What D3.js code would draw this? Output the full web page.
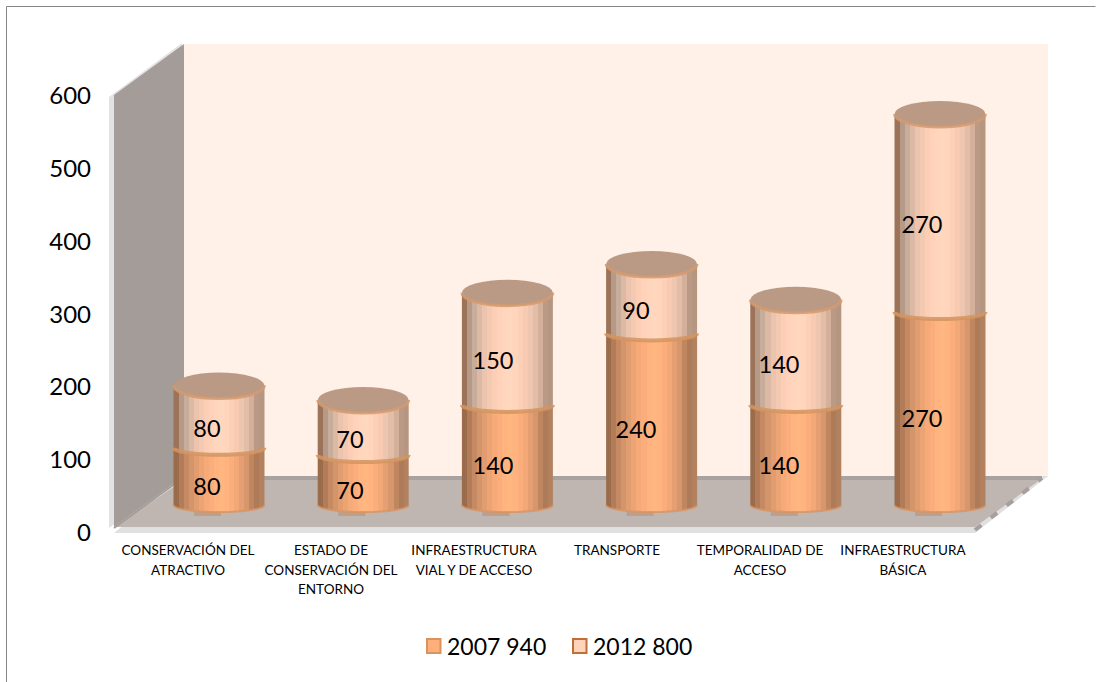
<!DOCTYPE html>
<html><head><meta charset="utf-8">
<script src="https://cdnjs.cloudflare.com/ajax/libs/d3/7.9.0/d3.min.js"></script>
<style>html,body{margin:0;padding:0;background:#fff}svg{display:block}text{font-family:Lato,"Open Sans",sans-serif;fill:#000}</style>
</head><body><svg id="c" width="1101" height="682"></svg>
<script>
const categories = [
  ["CONSERVACIÓN DEL","ATRACTIVO"],
  ["ESTADO DE","CONSERVACIÓN DEL","ENTORNO"],
  ["INFRAESTRUCTURA","VIAL Y DE ACCESO"],
  ["TRANSPORTE"],
  ["TEMPORALIDAD DE","ACCESO"],
  ["INFRAESTRUCTURA","BÁSICA"]
];
const values2007 = [80,70,140,240,140,270];
const values2012 = [80,70,150,90,140,270];
const yTicks = [0,100,200,300,400,500,600];
const legendLabels = ["2007 940","2012 800"];

const lowerStops = ["#9a6c4c","#b27c58","#c58a64","#d5956b","#e19c70","#eca474","#f5aa78","#fbae7b","#ffb37f","#ffb681","#ffb480","#fbae7b","#f3a878","#e69f72","#d7976d","#c08660","#ae7a58","#b28260"];
const upperStops = ["#9c7358","#b59a88","#c9ad9b","#dcb9a5","#ecc4ad","#f4c9b1","#fbceb5","#ffd2b9","#ffd5bc","#ffd6be","#ffd5bc","#fcd0b6","#f7cab1","#eec5ae","#e2bda7","#d4b09b","#ba9a86","#b59680"];

const svg = d3.select("#c");
const defs = svg.append("defs");
function stepped(id, cols){
  const g = defs.append("linearGradient").attr("id",id).attr("x1",0).attr("x2",1).attr("y1",0).attr("y2",0);
  cols.forEach((c,i)=>{
    g.append("stop").attr("offset",i/cols.length).attr("stop-color",c);
    g.append("stop").attr("offset",(i+1)/cols.length).attr("stop-color",c);
  });
}
stepped("gLow",lowerStops); stepped("gUp",upperStops);

// frame
svg.append("path").attr("d","M6.5,682V6.5H1095.5").attr("fill","none").attr("stroke","#868686");

const axisY = d3.scaleLinear().domain([0,600]).range([532,95]);
const barY = d3.scaleLinear().domain([0,600]).range([500,71]);
const barX = d3.scalePoint().domain(d3.range(6)).range([219,940]);
const labelX = d3.scalePoint().domain(d3.range(6)).range([188,903]);
const dataLabelX = d3.scalePoint().domain(d3.range(6)).range([207,922]);
const rx = 45.5, ry = 13, sag = 7, edge = 5;

// walls
svg.append("rect").attr("x",184).attr("y",44).attr("width",864).attr("height",434).attr("fill","#fff0e8");
svg.append("path").attr("d","M109,97L182,43V476L109,528Z").attr("fill","#e2e1e3");
svg.append("path").attr("d","M114,95L184,44V476L114,527Z").attr("fill","#a39c98");
svg.append("path").attr("d","M114,533L975,533L1048,476H184Z").attr("fill","#e0e0e0");
svg.append("path").attr("d","M114,527L184,480H1040L975,527Z").attr("fill","#bfb5b1");
svg.append("rect").attr("x",184).attr("y",476).attr("width",858).attr("height",4).attr("fill","#aaa29e");
svg.append("path").attr("d","M114,528L184,477").attr("stroke","#a39c98").attr("stroke-width",2);
svg.append("path").attr("d","M975,530L1042,478").attr("stroke","#a5a09d").attr("stroke-width",4).attr("stroke-dasharray","8 12");

function body(cx,y0,y1){
  return `M${cx-rx},${y1}V${y0}A${rx},${sag} 0 0 0 ${cx+rx},${y0}V${y1}A${rx},${sag} 0 0 1 ${cx-rx},${y1}Z`;
}
const frontArc = (cx,y)=>`M${cx-rx},${y}A${rx},${sag} 0 0 0 ${cx+rx},${y}`;

const bars = svg.append("g").selectAll("g").data(d3.range(6)).join("g");
bars.each(function(i){
  const g = d3.select(this), cx = barX(i);
  const y0 = barY(0), y1 = barY(values2007[i]), y2 = barY(values2007[i]+values2012[i]);
  // ground shadow
  g.append("path").attr("d",`M${cx-25},${y0+14}H${cx+2}`).attr("stroke","#bd9f8c").attr("stroke-width",4);
  g.append("path").attr("d",body(cx,y0+edge,y1+edge)).attr("fill","url(#gLow)");
  // upper body runs from the divide up to the cap centre
  g.append("path").attr("d",`M${cx-rx},${y2}V${y1+edge}A${rx},${sag} 0 0 0 ${cx+rx},${y1+edge}V${y2}Z`).attr("fill","url(#gUp)");
  // rims
  g.append("path").attr("d",frontArc(cx,y0+edge)).attr("fill","none").attr("stroke","#d9935f").attr("stroke-width",2).attr("opacity",0.8);
  g.append("path").attr("d",frontArc(cx,y1+edge)).attr("fill","none").attr("stroke","#d3945f").attr("stroke-width",4).attr("opacity",0.85);
  // cap
  g.append("ellipse").attr("cx",cx).attr("cy",y2).attr("rx",rx).attr("ry",ry).attr("fill","#bb9a85");
  g.append("path").attr("d",`M${cx-rx},${y2}A${rx},${ry} 0 0 0 ${cx+rx},${y2}`).attr("fill","none").attr("stroke","#d49a70").attr("stroke-width",3).attr("opacity",0.85);
  g.append("text").attr("x",dataLabelX(i)).attr("y",(y0+y1)/2+24).attr("text-anchor","middle").attr("font-size",23.5).text(values2007[i]);
  g.append("text").attr("x",dataLabelX(i)).attr("y",(y1+y2)/2+23).attr("text-anchor","middle").attr("font-size",23.5).text(values2012[i]);
});

// y axis labels
svg.append("g").selectAll("text").data(yTicks).join("text")
  .attr("x",91).attr("y",d=>axisY(d)+9).attr("text-anchor","end").attr("font-size",24).text(d=>d);

// category labels
categories.forEach((lines,i)=>{
  lines.forEach((l,j)=>{
    svg.append("text").attr("x",labelX(i)).attr("y",555+j*19.5).attr("text-anchor","middle").attr("font-size",13.5).text(l);
  });
});

// legend
const legendX = [426,572];
const legendFill = ["#ffb07a","#ffd4ba"];
const legendStroke = ["#d9935f","#bf6f33"];
legendLabels.forEach((t,i)=>{
  svg.append("rect").attr("x",legendX[i]+1).attr("y",639).attr("width",13.5).attr("height",14).attr("fill",legendFill[i]).attr("stroke",legendStroke[i]).attr("stroke-width",2);
  svg.append("text").attr("x",legendX[i]+21).attr("y",655).attr("font-size",23).text(t);
});
</script></body></html>
